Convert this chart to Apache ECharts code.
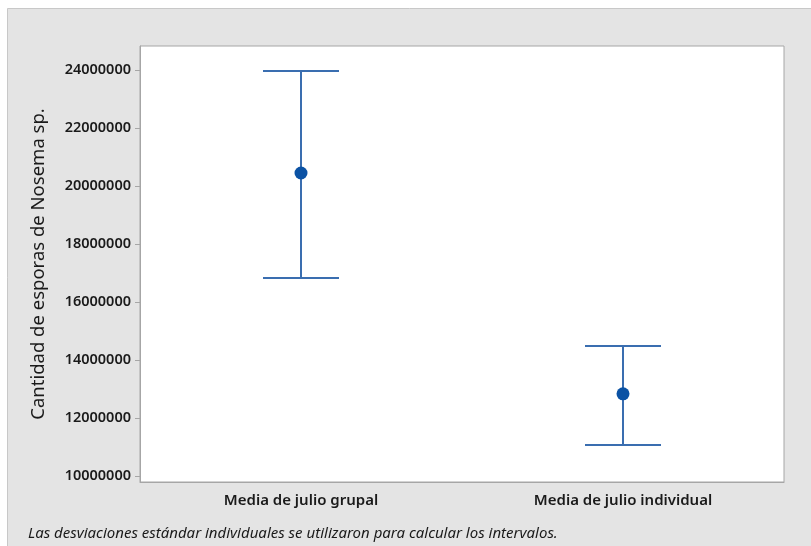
<!DOCTYPE html>
<html>
<head>
<meta charset="utf-8">
<script src="https://cdn.jsdelivr.net/npm/echarts@6/dist/echarts.min.js"></script>
<style>
  html, body { margin: 0; padding: 0; background: #fff; }
  #chart { width: 811px; height: 546px; }
</style>
</head>
<body>
<div id="chart"></div>
<script>
// groups and interval values
var categories = ['Media de julio grupal', 'Media de julio individual'];
var means = [20450000, 12830000];
var lowers = [16830000, 11070000];
var uppers = [23970000, 14480000];
var yTicks = [10000000, 12000000, 14000000, 16000000, 18000000, 20000000, 22000000, 24000000];

var fontFam = '"Noto Sans", "Open Sans", sans-serif';
var lineColor = '#3a6eb0';
var dotColor = '#0b52a4';

var chart = echarts.init(document.getElementById('chart'));

var data = categories.map(function (c, i) {
  return [i, lowers[i], means[i], uppers[i]];
});

function renderInterval(params, api) {
  var x = api.value(0);
  var lo = api.coord([x, api.value(1)]);
  var mid = api.coord([x, api.value(2)]);
  var hi = api.coord([x, api.value(3)]);
  var half = 38;
  var st = { stroke: lineColor, lineWidth: 2 };
  return {
    type: 'group',
    children: [
      { type: 'line', shape: { x1: hi[0], y1: hi[1], x2: lo[0], y2: lo[1] }, style: st },
      { type: 'line', shape: { x1: hi[0] - half, y1: hi[1], x2: hi[0] + half, y2: hi[1] }, style: st },
      { type: 'line', shape: { x1: lo[0] - half, y1: lo[1], x2: lo[0] + half, y2: lo[1] }, style: st },
      { type: 'circle', shape: { cx: mid[0], cy: mid[1], r: 6.5 }, style: { fill: dotColor } }
    ]
  };
}

var option = {
  backgroundColor: '#fff',
  animation: false,
  graphic: [
    {
      type: 'rect',
      z: -10,
      shape: { x: 7.5, y: 8.5, width: 810, height: 540 },
      style: { fill: '#e4e4e4', stroke: '#c8c8c8', lineWidth: 1 }
    },
    {
      type: 'text',
      left: 28,
      top: 526,
      style: {
        text: 'Las desviaciones estándar individuales se utilizaron para calcular los intervalos.',
        font: 'italic 15px ' + fontFam,
        fill: '#1a1a1a'
      }
    }
  ],
  grid: {
    left: 140,
    top: 46,
    right: 27,
    bottom: 64,
    show: true,
    backgroundColor: '#fff',
    borderColor: '#a6a6a6',
    borderWidth: 1
  },
  xAxis: {
    type: 'category',
    data: categories,
    boundaryGap: true,
    axisLine: { lineStyle: { color: '#a6a6a6' } },
    axisTick: { alignWithLabel: true, length: 5, lineStyle: { color: '#a6a6a6' } },
    axisLabel: {
      margin: 11,
      color: '#1a1a1a',
      fontFamily: fontFam,
      fontSize: 15,
      fontWeight: 600
    },
    splitLine: { show: false }
  },
  yAxis: {
    type: 'value',
    min: 9790000,
    max: 24830000,
    name: 'Cantidad de esporas de Nosema sp.',
    nameLocation: 'middle',
    nameRotate: 90,
    nameGap: 92,
    nameTextStyle: {
      color: '#1a1a1a',
      fontFamily: fontFam,
      fontSize: 18.5,
      fontWeight: 'normal'
    },
    axisLine: { show: true, lineStyle: { color: '#a6a6a6' } },
    axisTick: { show: true, length: 5, customValues: yTicks, lineStyle: { color: '#a6a6a6' } },
    axisLabel: {
      customValues: yTicks,
      margin: 9,
      color: '#1a1a1a',
      fontFamily: fontFam,
      fontSize: 14.5,
      fontWeight: 600,
      formatter: function (v) { return String(v); }
    },
    splitLine: { show: false }
  },
  series: [
    {
      type: 'custom',
      renderItem: renderInterval,
      encode: { x: 0, y: [1, 2, 3] },
      data: data
    }
  ]
};

chart.setOption(option);
</script>
</body>
</html>
